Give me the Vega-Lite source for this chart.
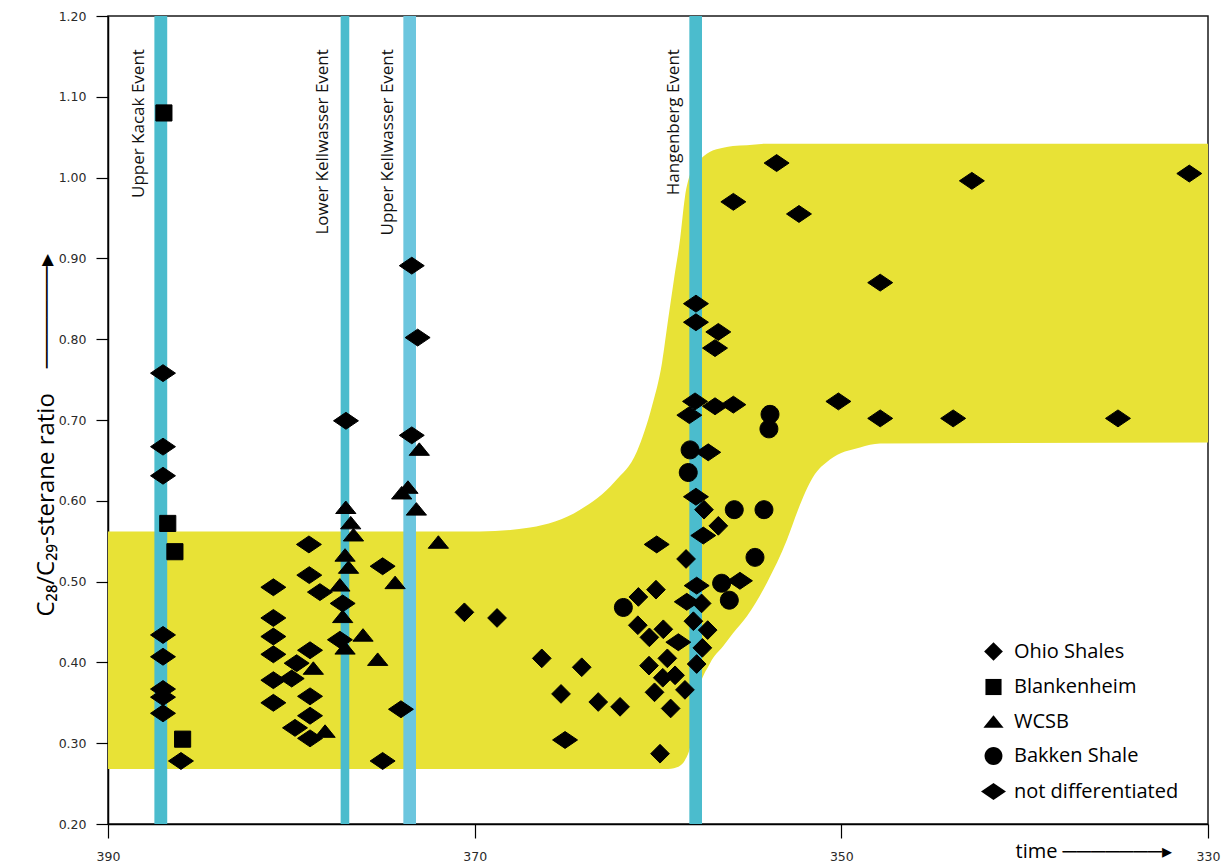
{
  "$schema": "https://vega.github.io/schema/vega-lite/v6.json",
  "width": 1100,
  "height": 808,
  "autosize": {"type": "none"},
  "padding": {"left": 108, "top": 16, "right": 13, "bottom": 44},
  "background": "white",
  "config": {
    "view": {"stroke": "#1a1a1a", "strokeWidth": 1.5},
    "axis": {
      "grid": false,
      "domainColor": "black",
      "domainWidth": 1.5,
      "tickColor": "black",
      "tickWidth": 1.2,
      "labelFont": "DejaVu Sans",
      "labelFontSize": 12.5,
      "labelColor": "#2a2a2a",
      "titleFont": "Open Sans",
      "titleFontWeight": "normal",
      "titleColor": "black"
    }
  },
  "datasets": {
    "band": [
      {"t": 390, "lo": 0.268, "hi": 0.562},
      {"t": 369.71, "lo": 0.268, "hi": 0.562},
      {"t": 366.98, "lo": 0.268, "hi": 0.567},
      {"t": 364.25, "lo": 0.268, "hi": 0.589},
      {"t": 362.35, "lo": 0.268, "hi": 0.624},
      {"t": 361.15, "lo": 0.268, "hi": 0.661},
      {"t": 360.33, "lo": 0.268, "hi": 0.717},
      {"t": 359.78, "lo": 0.268, "hi": 0.771},
      {"t": 359.45, "lo": 0.268, "hi": 0.824},
      {"t": 359.13, "lo": 0.269, "hi": 0.874},
      {"t": 358.80, "lo": 0.272, "hi": 0.923},
      {"t": 358.53, "lo": 0.279, "hi": 0.976},
      {"t": 358.25, "lo": 0.295, "hi": 1.004},
      {"t": 357.87, "lo": 0.355, "hi": 1.018},
      {"t": 357.16, "lo": 0.399, "hi": 1.032},
      {"t": 356.45, "lo": 0.420, "hi": 1.037},
      {"t": 355.91, "lo": 0.436, "hi": 1.039},
      {"t": 355.15, "lo": 0.457, "hi": 1.040},
      {"t": 354.05, "lo": 0.499, "hi": 1.042},
      {"t": 352.96, "lo": 0.552, "hi": 1.042},
      {"t": 352.36, "lo": 0.589, "hi": 1.042},
      {"t": 351.55, "lo": 0.629, "hi": 1.042},
      {"t": 350.62, "lo": 0.651, "hi": 1.042},
      {"t": 348.98, "lo": 0.666, "hi": 1.042},
      {"t": 347.89, "lo": 0.671, "hi": 1.042},
      {"t": 330, "lo": 0.672, "hi": 1.042}
    ],
    "events": [
      {"label": "Upper Kacak Event", "age": 387.12, "start": 387.47, "end": 386.77},
      {"label": "Lower Kellwasser Event", "age": 377.07, "start": 377.31, "end": 376.84},
      {"label": "Upper Kellwasser Event", "age": 373.54, "start": 373.89, "end": 373.2},
      {"label": "Hangenberg Event", "age": 357.94, "start": 358.29, "end": 357.6}
    ],
    "points": [
      {"t": 386.95, "r": 1.080, "type": "Blankenheim"},
      {"t": 386.74, "r": 0.572, "type": "Blankenheim"},
      {"t": 386.35, "r": 0.537, "type": "Blankenheim"},
      {"t": 385.93, "r": 0.305, "type": "Blankenheim"},

      {"t": 387.0, "r": 0.758, "type": "not differentiated"},
      {"t": 387.0, "r": 0.667, "type": "not differentiated"},
      {"t": 387.0, "r": 0.631, "type": "not differentiated"},
      {"t": 387.0, "r": 0.434, "type": "not differentiated"},
      {"t": 387.0, "r": 0.407, "type": "not differentiated"},
      {"t": 387.0, "r": 0.367, "type": "not differentiated"},
      {"t": 387.0, "r": 0.357, "type": "not differentiated"},
      {"t": 387.0, "r": 0.337, "type": "not differentiated"},
      {"t": 386.02, "r": 0.278, "type": "not differentiated"},
      {"t": 379.04, "r": 0.546, "type": "not differentiated"},
      {"t": 379.02, "r": 0.508, "type": "not differentiated"},
      {"t": 380.98, "r": 0.493, "type": "not differentiated"},
      {"t": 378.44, "r": 0.487, "type": "not differentiated"},
      {"t": 377.2, "r": 0.473, "type": "not differentiated"},
      {"t": 380.98, "r": 0.455, "type": "not differentiated"},
      {"t": 380.98, "r": 0.432, "type": "not differentiated"},
      {"t": 380.98, "r": 0.410, "type": "not differentiated"},
      {"t": 378.98, "r": 0.415, "type": "not differentiated"},
      {"t": 377.35, "r": 0.428, "type": "not differentiated"},
      {"t": 379.71, "r": 0.399, "type": "not differentiated"},
      {"t": 380.98, "r": 0.378, "type": "not differentiated"},
      {"t": 379.98, "r": 0.380, "type": "not differentiated"},
      {"t": 380.98, "r": 0.350, "type": "not differentiated"},
      {"t": 378.98, "r": 0.358, "type": "not differentiated"},
      {"t": 378.98, "r": 0.334, "type": "not differentiated"},
      {"t": 379.8, "r": 0.319, "type": "not differentiated"},
      {"t": 378.98, "r": 0.306, "type": "not differentiated"},
      {"t": 375.02, "r": 0.519, "type": "not differentiated"},
      {"t": 374.02, "r": 0.342, "type": "not differentiated"},
      {"t": 375.02, "r": 0.278, "type": "not differentiated"},
      {"t": 377.02, "r": 0.699, "type": "not differentiated"},
      {"t": 373.43, "r": 0.891, "type": "not differentiated"},
      {"t": 373.11, "r": 0.802, "type": "not differentiated"},
      {"t": 373.43, "r": 0.681, "type": "not differentiated"},
      {"t": 357.93, "r": 0.844, "type": "not differentiated"},
      {"t": 357.93, "r": 0.821, "type": "not differentiated"},
      {"t": 356.71, "r": 0.809, "type": "not differentiated"},
      {"t": 356.89, "r": 0.789, "type": "not differentiated"},
      {"t": 357.98, "r": 0.723, "type": "not differentiated"},
      {"t": 356.89, "r": 0.717, "type": "not differentiated"},
      {"t": 355.89, "r": 0.719, "type": "not differentiated"},
      {"t": 358.29, "r": 0.706, "type": "not differentiated"},
      {"t": 357.26, "r": 0.660, "type": "not differentiated"},
      {"t": 357.93, "r": 0.605, "type": "not differentiated"},
      {"t": 357.53, "r": 0.557, "type": "not differentiated"},
      {"t": 360.07, "r": 0.546, "type": "not differentiated"},
      {"t": 357.89, "r": 0.495, "type": "not differentiated"},
      {"t": 358.43, "r": 0.475, "type": "not differentiated"},
      {"t": 358.89, "r": 0.425, "type": "not differentiated"},
      {"t": 355.53, "r": 0.501, "type": "not differentiated"},
      {"t": 365.07, "r": 0.304, "type": "not differentiated"},
      {"t": 353.53, "r": 1.018, "type": "not differentiated"},
      {"t": 355.89, "r": 0.970, "type": "not differentiated"},
      {"t": 352.31, "r": 0.955, "type": "not differentiated"},
      {"t": 350.16, "r": 0.723, "type": "not differentiated"},
      {"t": 347.88, "r": 0.870, "type": "not differentiated"},
      {"t": 342.88, "r": 0.996, "type": "not differentiated"},
      {"t": 331.02, "r": 1.005, "type": "not differentiated"},
      {"t": 347.88, "r": 0.702, "type": "not differentiated"},
      {"t": 343.9, "r": 0.702, "type": "not differentiated"},
      {"t": 334.91, "r": 0.702, "type": "not differentiated"},

      {"t": 377.03, "r": 0.592, "type": "WCSB"},
      {"t": 376.76, "r": 0.573, "type": "WCSB"},
      {"t": 376.61, "r": 0.558, "type": "WCSB"},
      {"t": 377.07, "r": 0.533, "type": "WCSB"},
      {"t": 376.88, "r": 0.518, "type": "WCSB"},
      {"t": 377.35, "r": 0.496, "type": "WCSB"},
      {"t": 377.2, "r": 0.457, "type": "WCSB"},
      {"t": 376.09, "r": 0.434, "type": "WCSB"},
      {"t": 377.07, "r": 0.418, "type": "WCSB"},
      {"t": 375.29, "r": 0.404, "type": "WCSB"},
      {"t": 374.34, "r": 0.499, "type": "WCSB"},
      {"t": 371.98, "r": 0.549, "type": "WCSB"},
      {"t": 378.8, "r": 0.393, "type": "WCSB"},
      {"t": 378.16, "r": 0.315, "type": "WCSB"},
      {"t": 373.02, "r": 0.664, "type": "WCSB"},
      {"t": 373.64, "r": 0.617, "type": "WCSB"},
      {"t": 373.98, "r": 0.610, "type": "WCSB"},
      {"t": 373.18, "r": 0.590, "type": "WCSB"},

      {"t": 357.49, "r": 0.589, "type": "Ohio Shales"},
      {"t": 356.71, "r": 0.569, "type": "Ohio Shales"},
      {"t": 358.47, "r": 0.528, "type": "Ohio Shales"},
      {"t": 360.11, "r": 0.490, "type": "Ohio Shales"},
      {"t": 361.07, "r": 0.481, "type": "Ohio Shales"},
      {"t": 357.62, "r": 0.473, "type": "Ohio Shales"},
      {"t": 358.07, "r": 0.451, "type": "Ohio Shales"},
      {"t": 361.10, "r": 0.446, "type": "Ohio Shales"},
      {"t": 359.71, "r": 0.441, "type": "Ohio Shales"},
      {"t": 357.29, "r": 0.440, "type": "Ohio Shales"},
      {"t": 360.47, "r": 0.431, "type": "Ohio Shales"},
      {"t": 357.58, "r": 0.418, "type": "Ohio Shales"},
      {"t": 359.49, "r": 0.405, "type": "Ohio Shales"},
      {"t": 357.89, "r": 0.398, "type": "Ohio Shales"},
      {"t": 360.49, "r": 0.396, "type": "Ohio Shales"},
      {"t": 359.74, "r": 0.381, "type": "Ohio Shales"},
      {"t": 359.07, "r": 0.384, "type": "Ohio Shales"},
      {"t": 360.19, "r": 0.363, "type": "Ohio Shales"},
      {"t": 358.53, "r": 0.366, "type": "Ohio Shales"},
      {"t": 359.31, "r": 0.343, "type": "Ohio Shales"},
      {"t": 359.89, "r": 0.287, "type": "Ohio Shales"},
      {"t": 366.34, "r": 0.405, "type": "Ohio Shales"},
      {"t": 364.16, "r": 0.394, "type": "Ohio Shales"},
      {"t": 365.29, "r": 0.361, "type": "Ohio Shales"},
      {"t": 363.26, "r": 0.351, "type": "Ohio Shales"},
      {"t": 362.07, "r": 0.345, "type": "Ohio Shales"},
      {"t": 370.56, "r": 0.462, "type": "Ohio Shales"},
      {"t": 368.78, "r": 0.455, "type": "Ohio Shales"},

      {"t": 358.25, "r": 0.663, "type": "Bakken Shale"},
      {"t": 358.35, "r": 0.635, "type": "Bakken Shale"},
      {"t": 353.89, "r": 0.707, "type": "Bakken Shale"},
      {"t": 353.95, "r": 0.689, "type": "Bakken Shale"},
      {"t": 355.84, "r": 0.589, "type": "Bakken Shale"},
      {"t": 354.22, "r": 0.589, "type": "Bakken Shale"},
      {"t": 354.71, "r": 0.530, "type": "Bakken Shale"},
      {"t": 356.53, "r": 0.498, "type": "Bakken Shale"},
      {"t": 356.11, "r": 0.477, "type": "Bakken Shale"},
      {"t": 361.89, "r": 0.468, "type": "Bakken Shale"}
    ]
  },
  "layer": [
    {
      "data": {"name": "band"},
      "mark": {"type": "area", "interpolate": "monotone", "color": "#E8E236", "opacity": 1},
      "encoding": {
        "x": {
          "field": "t", "type": "quantitative",
          "scale": {"domain": [330, 390], "reverse": true, "nice": false, "zero": false},
          "axis": {
            "values": [390, 370, 350, 330],
            "format": "d",
            "tickSize": 14,
            "labelPadding": 12,
            "labelFlush": false,
            "labelOverlap": false,
            "title": "time ───────▸",
            "titleFontSize": 20,
            "titleAlign": "left",
            "titleBaseline": "middle",
            "titleAnchor": "start",
            "titleX": 907,
            "titleY": 27
          }
        },
        "y": {
          "field": "lo", "type": "quantitative",
          "scale": {"domain": [0.2, 1.2], "nice": false, "zero": false},
          "axis": {
            "values": [0.2, 0.3, 0.4, 0.5, 0.6, 0.7, 0.8, 0.9, 1.0, 1.1, 1.2],
            "format": ".2f",
            "tickSize": 12,
            "labelPadding": 10,
            "labelFlush": false,
            "labelOverlap": false,
            "title": "C₂₈/C₂₉-sterane ratio\u00a0\u00a0\u00a0\u00a0──────▸",
            "titleFontSize": 24,
            "titleAngle": 270,
            "titleAlign": "left",
            "titleBaseline": "middle",
            "titleAnchor": "start",
            "titleX": -62,
            "titleY": 600
          }
        },
        "y2": {"field": "hi"}
      }
    },
    {
      "data": {"name": "events"},
      "mark": {"type": "rect"},
      "encoding": {
        "x": {"field": "start", "type": "quantitative"},
        "x2": {"field": "end"},
        "color": {
          "field": "label", "type": "nominal",
          "scale": {
            "domain": ["Upper Kacak Event", "Lower Kellwasser Event", "Upper Kellwasser Event", "Hangenberg Event"],
            "range": ["#4BBCCD", "#4BBCCD", "#6CC6DE", "#4BBCCD"]
          },
          "legend": null
        }
      }
    },
    {
      "data": {"name": "events"},
      "mark": {"type": "text", "angle": 270, "align": "right", "baseline": "middle", "dy": -22, "font": "Open Sans", "fontSize": 17, "color": "#111111"},
      "encoding": {
        "x": {"field": "age", "type": "quantitative"},
        "y": {"datum": 1.159, "type": "quantitative"},
        "text": {"field": "label"}
      }
    },
    {
      "data": {"name": "points"},
      "mark": {"type": "point", "filled": true, "color": "black", "opacity": 1, "size": 676, "stroke": "black", "strokeWidth": 1, "strokeJoin": "round"},
      "encoding": {
        "x": {"field": "t", "type": "quantitative"},
        "y": {"field": "r", "type": "quantitative"},
        "shape": {
          "field": "type", "type": "nominal",
          "scale": {
            "domain": ["Ohio Shales", "Blankenheim", "WCSB", "Bakken Shale", "not differentiated"],
            "range": [
              "M-0.72,0L0,-0.72L0.72,0L0,0.72Z",
              "M-0.62,-0.62L0.62,-0.62L0.62,0.62L-0.62,0.62Z",
              "M0,-0.48L0.78,0.48L-0.78,0.48Z",
              "M0.69,0A0.69,0.69,0,1,1,-0.69,0A0.69,0.69,0,1,1,0.69,0Z",
              "M-0.96,0L0,-0.65L0.96,0L0,0.65Z"
            ]
          },
          "legend": {
            "orient": "none",
            "legendX": 872,
            "legendY": 622,
            "title": null,
            "padding": 0,
            "labelFont": "Open Sans",
            "labelFontSize": 20,
            "labelColor": "black",
            "labelOffset": 7,
            "labelLimit": 400,
            "rowPadding": 10.5,
            "symbolSize": 676,
            "symbolFillColor": "black",
            "symbolStrokeColor": "black",
            "symbolStrokeWidth": 1
          }
        }
      }
    }
  ]
}
